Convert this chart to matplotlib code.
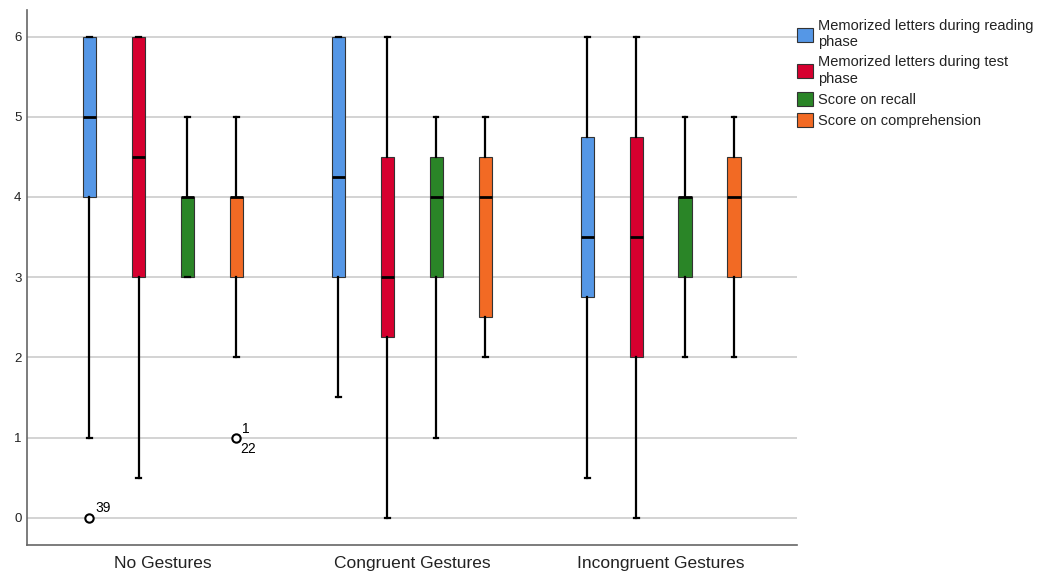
import matplotlib.pyplot as plt
from matplotlib.patches import Patch

plt.rcParams['font.family'] = ['Liberation Sans', 'DejaVu Sans']

groups = ['No Gestures', 'Congruent Gestures', 'Incongruent Gestures']
series = ['Memorized letters during reading\nphase',
          'Memorized letters during test\nphase',
          'Score on recall',
          'Score on comprehension']
colors = ['#5597E6', '#D6002F', '#2A8527', '#F26A24']

# per series: one entry per group -> [whislo, q1, med, q3, whishi]
reading = [[1, 4, 5, 6, 6], [1.5, 3, 4.25, 6, 6], [0.5, 2.75, 3.5, 4.75, 6]]
test = [[0.5, 3, 4.5, 6, 6], [0, 2.25, 3, 4.5, 6], [0, 2, 3.5, 4.75, 6]]
recall = [[3, 3, 4, 4, 5], [1, 3, 4, 4.5, 5], [2, 3, 4, 4, 5]]
compreh = [[2, 3, 4, 4, 5], [2, 2.5, 4, 4.5, 5], [2, 3, 4, 4.5, 5]]
all_stats = [reading, test, recall, compreh]

# outliers: (series index, group index, value, label)
outliers = [(0, 0, 0, '39'), (3, 0, 1, '1\n22')]

fig = plt.figure(figsize=(10.58, 5.74), dpi=100)
ax = fig.add_axes([0.0255, 0.0505, 0.7275, 0.932])

offsets = [-0.295, -0.098, 0.098, 0.295]
for si, st in enumerate(all_stats):
    stats = []
    for gi, v in enumerate(st):
        fl = [o[2] for o in outliers if o[0] == si and o[1] == gi]
        stats.append(dict(whislo=v[0], q1=v[1], med=v[2], q3=v[3], whishi=v[4], fliers=fl))
    pos = [g + offsets[si] for g in range(len(groups))]
    ax.bxp(stats, positions=pos, widths=0.054, patch_artist=True, showfliers=True,
           boxprops=dict(facecolor=colors[si], edgecolor='#333333', linewidth=0.8),
           medianprops=dict(color='black', linewidth=2),
           whiskerprops=dict(color='black', linewidth=1.6),
           capprops=dict(color='black', linewidth=1.6),
           capwidths=0.018,
           flierprops=dict(marker='o', markerfacecolor='white', markeredgecolor='black',
                           markersize=6, markeredgewidth=1.5),
           zorder=3)

for si, gi, val, lab in outliers:
    x = gi + offsets[si]
    if '\n' in lab:
        top, bot = lab.split('\n')
        ax.text(x + 0.022, val + 0.02, top, fontsize=10, ha='left', va='bottom')
        ax.text(x + 0.015, val - 0.05, bot, fontsize=10, ha='left', va='top')
    else:
        ax.text(x + 0.024, val + 0.04, lab, fontsize=10, ha='left', va='bottom')

ax.set_xlim(-0.546, 2.546)
ax.set_ylim(-0.34, 6.33)
ax.set_yticks(range(0, 7))
ax.set_xticks(range(len(groups)))
ax.set_xticklabels(groups, fontsize=12.5, color='#222222')
ax.tick_params(axis='both', length=0)
ax.tick_params(axis='y', labelsize=9.5, pad=4, labelcolor='#222222')
ax.tick_params(axis='x', pad=8)
ax.yaxis.grid(True, color='#cccccc', linewidth=1.2, zorder=0)
ax.set_axisbelow(True)
for s in ['top', 'right']:
    ax.spines[s].set_visible(False)
for s in ['left', 'bottom']:
    ax.spines[s].set_color('#666666')
    ax.spines[s].set_linewidth(1.2)

handles = [Patch(facecolor=c, edgecolor='#333333', linewidth=0.8) for c in colors]
leg = fig.legend(handles, series, loc='upper left', bbox_to_anchor=(0.748, 0.977),
                 frameon=False, fontsize=10.5, handlelength=1.1, handleheight=1.1,
                 handletextpad=0.3, labelspacing=0.42, borderaxespad=0)
for t in leg.get_texts():
    t.set_color('#222222')

fig.savefig('out.png', dpi=100)
